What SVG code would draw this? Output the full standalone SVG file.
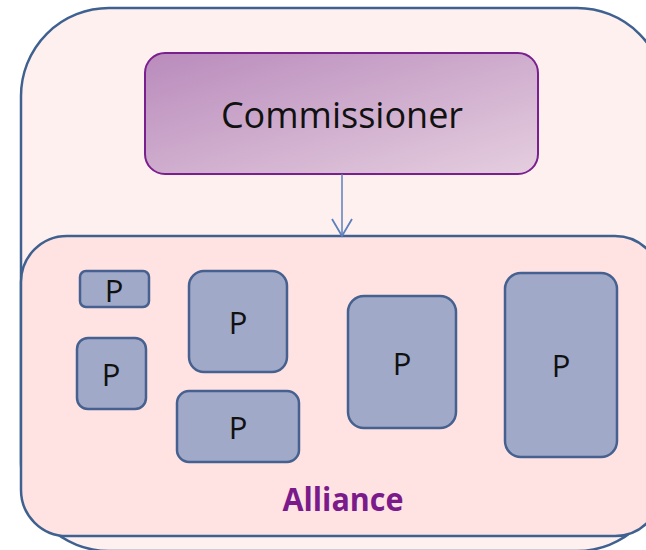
<svg xmlns="http://www.w3.org/2000/svg" width="646" height="550" viewBox="0 0 646 550">
<defs>
<linearGradient id="cg" x1="0" y1="0" x2="1" y2="1">
<stop offset="0" stop-color="#B98BBC"/>
<stop offset="1" stop-color="#E5CEDF"/>
</linearGradient>
<marker id="arr" markerWidth="22" markerHeight="24" refX="18" refY="11" orient="auto" markerUnits="userSpaceOnUse">
<path d="M1,1 L18,11 L1,21" fill="none" stroke="#5B80BE" stroke-width="1.8"/>
</marker>
<style>
.frame{stroke:#3F6190;stroke-width:2.5}
.p rect{fill:#A0A9C7;stroke:#46618F;stroke-width:2.5}
.p text{font-family:"Open Sans","Noto Sans",sans-serif;font-size:31px;fill:#111;text-anchor:middle}
</style>
</defs>
<g id="outer">
<rect class="frame" x="21" y="8" width="644" height="543" rx="88" ry="88" fill="#FFF0F0"/>
</g>
<g id="alliance">
<rect class="frame" x="21" y="236" width="640" height="300" rx="46" ry="46" fill="#FFE3E3"/>
<text x="343" y="511" font-family="'Open Sans','Noto Sans',sans-serif" font-weight="bold" font-size="33" fill="#7A1A8B" text-anchor="middle" textLength="121" lengthAdjust="spacingAndGlyphs">Alliance</text>
</g>
<g id="commissioner">
<rect x="145" y="53" width="393" height="121" rx="20" ry="20" fill="url(#cg)" stroke="#7A1F8E" stroke-width="2"/>
<text x="342" y="128" font-family="'Open Sans','Noto Sans',sans-serif" font-size="36" fill="#111" text-anchor="middle">Commissioner</text>
</g>
<g id="connectors">
<line x1="342" y1="174" x2="342" y2="236" stroke="#5B80BE" stroke-width="1.5" marker-end="url(#arr)"/>
</g>
<g id="p1" class="p"><rect x="80" y="271" width="69" height="36" rx="6"/><text x="114" y="302">P</text></g>
<g id="p2" class="p"><rect x="77" y="338" width="69" height="71" rx="11"/><text x="111" y="386">P</text></g>
<g id="p3" class="p"><rect x="189" y="271" width="98" height="101" rx="15"/><text x="238" y="334">P</text></g>
<g id="p4" class="p"><rect x="177" y="391" width="122" height="71" rx="12"/><text x="238" y="439">P</text></g>
<g id="p5" class="p"><rect x="348" y="296" width="108" height="132" rx="16"/><text x="402" y="375">P</text></g>
<g id="p6" class="p"><rect x="505" y="273" width="112" height="184" rx="16"/><text x="561" y="377">P</text></g>
</svg>
